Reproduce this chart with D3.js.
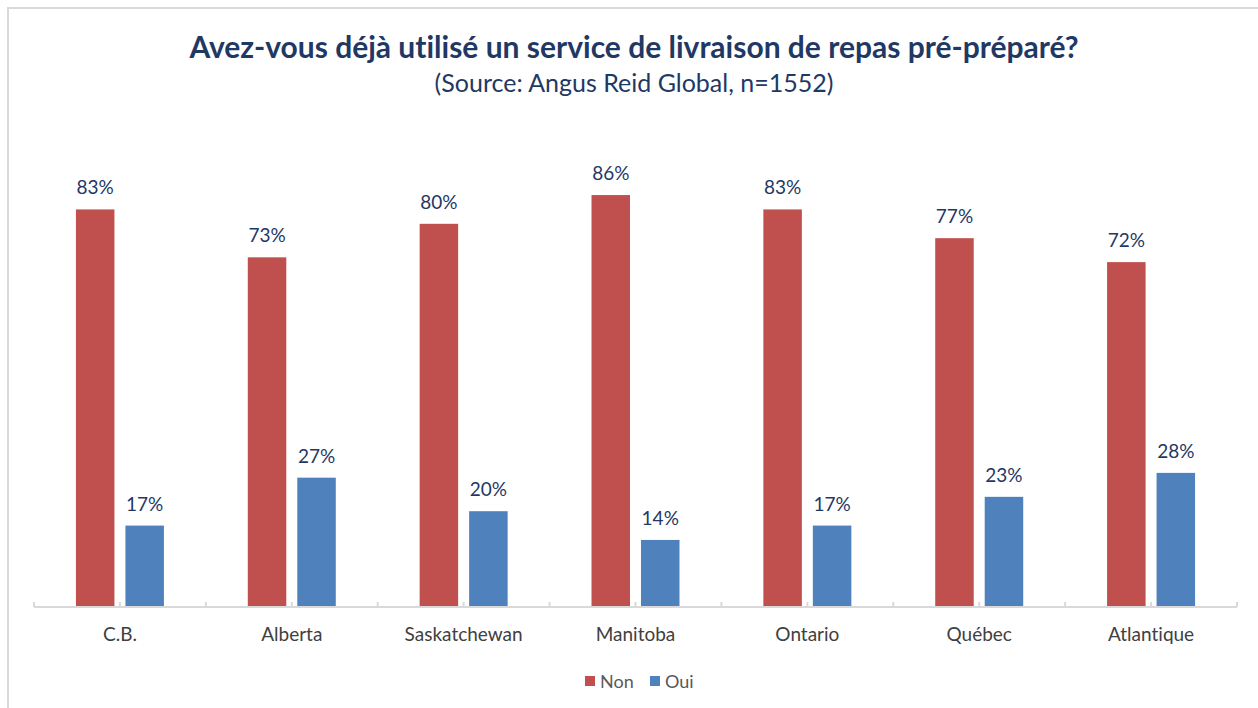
<!DOCTYPE html>
<html>
<head>
<meta charset="utf-8">
<script src="https://cdn.jsdelivr.net/npm/d3@7"></script>
<style>
  body { margin: 0; background: #fff; }
  text { font-family: Lato, "Open Sans", sans-serif; font-variant-ligatures: none; font-feature-settings: "liga" 0, "dlig" 0; }
</style>
</head>
<body>
<div id="chart"></div>
<script>
// data
var provinces = ["C.B.", "Alberta", "Saskatchewan", "Manitoba", "Ontario", "Québec", "Atlantique"];
var seriesNames = ["Non", "Oui"];
var nonValues = [83, 73, 80, 86, 83, 77, 72];
var ouiValues = [17, 27, 20, 14, 17, 23, 28];
var seriesColors = ["#c0504d", "#4f81bd"];

var svgWidth = 1258;
var svgHeight = 708;

var svg = d3.select("#chart")
  .append("svg")
  .attr("width", svgWidth)
  .attr("height", svgHeight);

// chart frame (only top and left edges visible)
svg.append("path")
  .attr("d", "M8,760 V8 H1300")
  .attr("fill", "none")
  .attr("stroke", "#d9d9d9")
  .attr("stroke-width", 2);

// title
svg.append("text")
  .attr("x", 634)
  .attr("y", 58)
  .attr("text-anchor", "middle")
  .attr("font-size", 30)
  .attr("font-weight", "bold")
  .attr("fill", "#1f3864")
  .text("Avez-vous déjà utilisé un service de livraison de repas pré-préparé?");

svg.append("text")
  .attr("x", 634)
  .attr("y", 92)
  .attr("text-anchor", "middle")
  .attr("font-size", 25)
  .attr("fill", "#1f3864")
  .text("(Source: Angus Reid Global, n=1552)");

var left = 34, right = 1237, baseY = 607, topY = 128;

var x0 = d3.scaleBand()
  .domain(provinces)
  .range([left, right])
  .padding(0);

var x1 = d3.scaleBand()
  .domain(seriesNames)
  .range([-44, 44])
  .paddingInner(0.222);

var y = d3.scaleLinear()
  .domain([0, 100])
  .range([baseY, topY]);

var rows = provinces.map(function(p, i) {
  return { province: p, values: [nonValues[i], ouiValues[i]] };
});

var groups = svg.selectAll(".grp")
  .data(rows)
  .enter()
  .append("g")
  .attr("class", "grp")
  .attr("transform", d => `translate(${x0(d.province) + x0.bandwidth() / 2}, 0)`);

var cells = groups.selectAll(".cell")
  .data(d => d.values.map((v, j) => ({ name: seriesNames[j], value: v, color: seriesColors[j] })))
  .enter();

cells.append("rect")
  .attr("x", d => x1(d.name))
  .attr("y", d => y(d.value))
  .attr("width", x1.bandwidth())
  .attr("height", d => baseY - y(d.value))
  .attr("fill", d => d.color);

cells.append("text")
  .attr("x", d => x1(d.name) + x1.bandwidth() / 2)
  .attr("y", d => y(d.value) - 15)
  .attr("text-anchor", "middle")
  .attr("font-size", 19)
  .attr("fill", "#1f3864")
  .text(d => d.value + "%");

// x axis
var bottomAxis = d3.axisBottom(x0).tickSize(0).tickPadding(21);
var axisG = svg.append("g")
  .attr("transform", `translate(0, ${baseY})`)
  .call(bottomAxis);
axisG.select(".domain")
  .attr("stroke", "#d9d9d9")
  .attr("stroke-width", 2)
  .attr("d", `M${left},0 H${right}`);
axisG.selectAll("text")
  .attr("font-size", 19)
  .attr("fill", "#404040")
  .attr("font-family", "Lato, 'Open Sans', sans-serif");

// small inward ticks at boundaries and centers
var tickXs = [];
provinces.forEach(function(p) {
  tickXs.push(x0(p));
  tickXs.push(x0(p) + x0.bandwidth() / 2);
});
tickXs.push(right);
svg.selectAll(".tk")
  .data(tickXs)
  .enter()
  .append("line")
  .attr("class", "tk")
  .attr("x1", d => d)
  .attr("x2", d => d)
  .attr("y1", baseY - 5)
  .attr("y2", baseY)
  .attr("stroke", "#d9d9d9")
  .attr("stroke-width", 2);

// legend
var legend = svg.append("g").attr("transform", "translate(585, 681)");
var legendX = [0, 65];
seriesNames.forEach(function(name, i) {
  legend.append("rect")
    .attr("x", legendX[i])
    .attr("y", -5)
    .attr("width", 10)
    .attr("height", 10)
    .attr("fill", seriesColors[i]);
  legend.append("text")
    .attr("x", legendX[i] + 15)
    .attr("y", 7)
    .attr("font-size", 18)
    .attr("fill", "#595959")
    .text(name);
});
</script>
</body>
</html>
